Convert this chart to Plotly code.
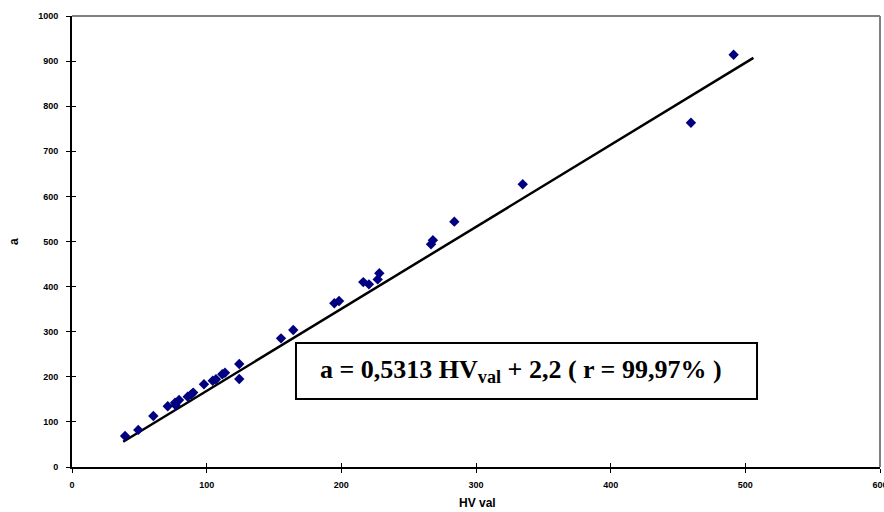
import plotly.graph_objects as go

# Data points (HV val, a)
hv_val = [39.4, 49.2, 60.4, 71.1, 76.5, 77.0, 79.5, 85.9, 88.5, 90.0, 98.0, 104.5,
          106.9, 111.6, 113.6, 124.2, 124.2, 155.2, 164.3, 194.8, 198.3, 216.3,
          220.5, 227.0, 228.2, 266.6, 268.0, 283.9, 334.7, 459.6, 491.3]
a_val = [68.7, 82.3, 113.0, 134.6, 142.6, 137.0, 148.6, 156.0, 161.0, 165.0, 183.4, 191.4,
         194.5, 205.5, 209.0, 228.4, 195.0, 285.3, 303.8, 363.0, 368.0, 410.0,
         405.0, 416.0, 429.5, 494.0, 503.0, 544.0, 627.0, 763.4, 914.0]

# Fitted line endpoints
fit_x = [38, 506]
fit_y = [56, 907]

x_ticks = [0, 100, 200, 300, 400, 500, 600]
y_ticks = [0, 100, 200, 300, 400, 500, 600, 700, 800, 900, 1000]

x_title = "HV val"
y_title = "a"
equation = "a = 0,5313 HV<sub>val</sub> + 2,2 ( r = 99,97% )"

fig = go.Figure()
fig.add_trace(go.Scatter(x=fit_x, y=fit_y, mode="lines",
                         line=dict(color="black", width=2.5), showlegend=False,
                         hoverinfo="skip"))
fig.add_trace(go.Scatter(x=hv_val, y=a_val, mode="markers",
                         marker=dict(symbol="diamond", size=8, color="#000080",
                                     line=dict(width=0)),
                         showlegend=False))

tickfont = dict(family="Liberation Sans, Arial", size=9, color="black", weight="bold")

fig.update_layout(
    width=884, height=512,
    margin=dict(l=72, r=4, t=16, b=45),
    paper_bgcolor="white", plot_bgcolor="white",
    xaxis=dict(range=[0, 600], tickvals=x_ticks, showgrid=False, zeroline=False,
               showline=True, linecolor="black", linewidth=2, automargin=False,
               ticks="outside", ticklen=4, tickwidth=1, tickcolor="black",
               tickfont=tickfont, ticklabelstandoff=4, ticklabeloverflow="allow"),
    yaxis=dict(range=[0, 1000], tickvals=y_ticks, showgrid=False, zeroline=False,
               showline=True, linecolor="black", linewidth=2, automargin=False,
               ticks="outside", ticklen=4, tickwidth=1, tickcolor="black",
               tickfont=tickfont, ticklabelstandoff=6, ticklabeloverflow="allow"),
    xaxis2=dict(range=[0, 600], tickvals=x_ticks, overlaying="x", showticklabels=False,
                ticks="inside", ticklen=4, tickcolor="black", showgrid=False, zeroline=False,
                showline=False, automargin=False),
    yaxis2=dict(range=[0, 1000], tickvals=y_ticks, overlaying="y", showticklabels=False,
                ticks="inside", ticklen=4, tickcolor="black", showgrid=False, zeroline=False,
                showline=False, automargin=False),
)

# dummy trace to activate secondary axes for crossing ticks
fig.add_trace(go.Scatter(x=[None], y=[None], xaxis="x2", yaxis="y2", showlegend=False,
                         hoverinfo="skip"))

# gray border on top/right
fig.add_shape(type="line", xref="paper", yref="paper", x0=0, x1=1, y0=1, y1=1,
              line=dict(color="#808080", width=2), layer="below")
fig.add_shape(type="line", xref="paper", yref="paper", x0=1, x1=1, y0=0, y1=1,
              line=dict(color="#808080", width=2), layer="below")

# axis titles
fig.add_annotation(xref="paper", yref="paper", x=0.5024, y=-0.0798,
                   text="<b>" + x_title + "</b>", showarrow=False,
                   font=dict(family="Liberation Sans, Arial", size=12, color="black"),
                   xanchor="center", yanchor="middle")
fig.add_annotation(xref="paper", yref="paper", x=-0.0718, y=0.501,
                   text="<b>" + y_title + "</b>", showarrow=False, textangle=-90,
                   font=dict(family="Liberation Sans, Arial", size=12, color="black"),
                   xanchor="center", yanchor="middle")

# equation box
fig.add_shape(type="rect", xref="paper", yref="paper",
              x0=0.2772, x1=0.8478, y0=0.1508, y1=0.2749,
              line=dict(color="black", width=2), fillcolor="white")
fig.add_annotation(xref="paper", yref="paper", x=0.5563, y=0.2129,
                   text="<b>" + equation + "</b>", showarrow=False,
                   font=dict(family="Liberation Serif, Times New Roman", size=26, color="black"),
                   xanchor="center", yanchor="middle")

fig.write_html("out.html", config={"displayModeBar": False},
               post_script="document.body.style.margin='0';document.body.style.overflow='hidden';")
